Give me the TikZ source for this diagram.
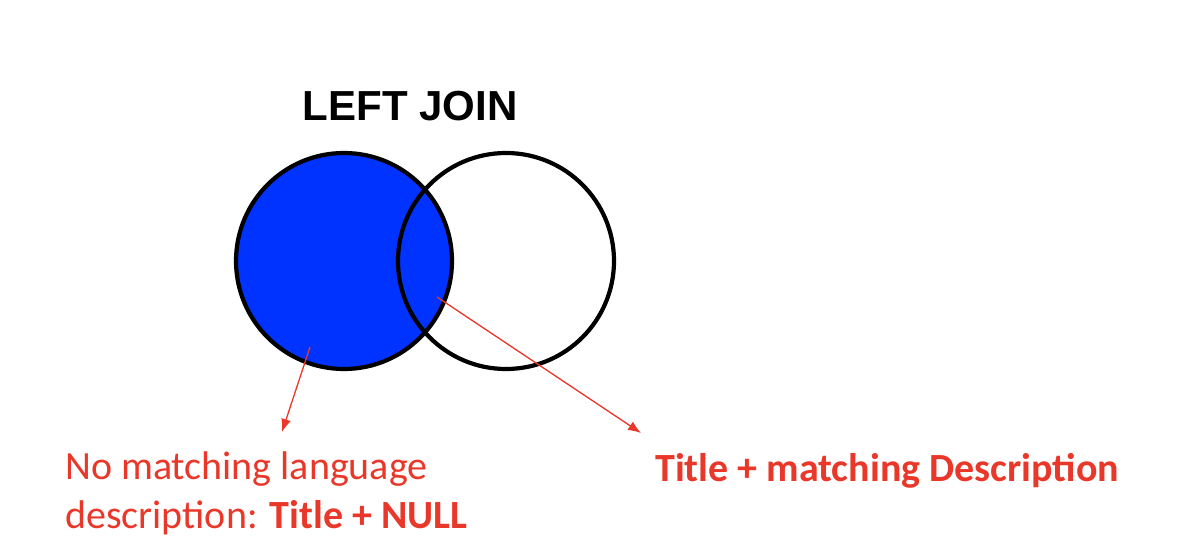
\documentclass[tikz,border=0pt]{standalone}
\usepackage{fontspec}
\setmainfont{Carlito}
\newfontfamily\titlefont{Liberation Sans}
\usetikzlibrary{arrows.meta,positioning}
\definecolor{joinblue}{RGB}{0,51,255}
\definecolor{notered}{RGB}{233,56,42}

\begin{document}
\begin{tikzpicture}[x=1pt,y=1pt,
  set/.style={circle,draw=black,line width=4.2pt,minimum size=216pt,inner sep=0pt},
  note/.style={text=notered,font=\fontsize{40}{49}\selectfont,inner sep=0pt,align=left},
  pointer/.style={draw=notered,line width=1.3pt,-{Latex[length=13pt,width=10pt]}}]
\useasboundingbox (0,0) rectangle (1188,558);
\node[font=\titlefont\bfseries\fontsize{42}{50}\selectfont,inner sep=0pt] (title) at (410,452) {LEFT JOIN};
\node[set,fill=joinblue] (leftset) at (344,297) {};
\node[set] (rightset) at (506,297) {};
\node[note,anchor=north west] (nomatch) at (65,106) {No matching language\\description: \textbf{Title + NULL}};
\node[note,anchor=base west] (match) at (655,77) {\textbf{Title + matching Description}};
\coordinate (leftfrom) at (310,211);
\coordinate (leftto) at (282,126);
\coordinate (bothfrom) at (437,261);
\coordinate (bothto) at (641,125);
\draw[pointer] (leftfrom) -- (leftto);
\draw[pointer] (bothfrom) -- (bothto);
\end{tikzpicture}
\end{document}
